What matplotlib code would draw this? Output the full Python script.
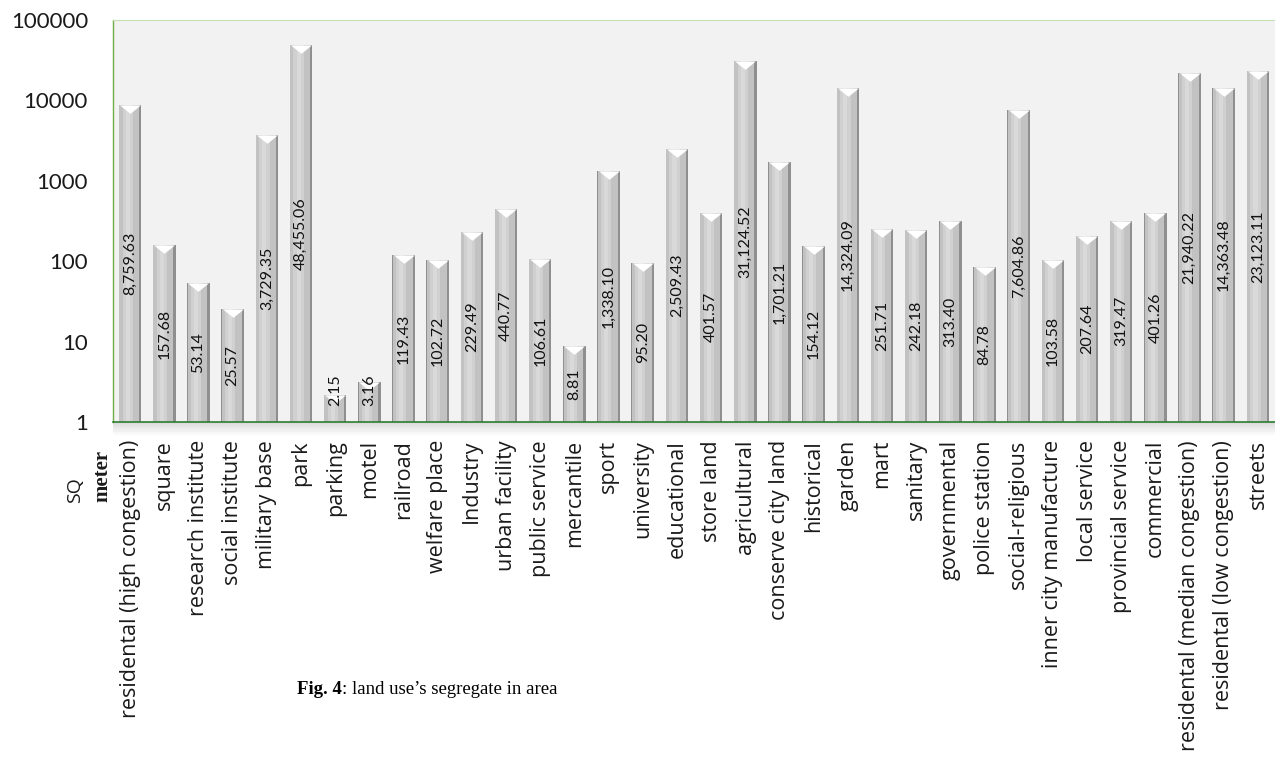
import matplotlib
matplotlib.use("Agg")
import matplotlib.pyplot as plt
from matplotlib.patches import Rectangle
import numpy as np

# land use categories and their area (sq meter)
categories = ["residental (high congestion)", "square", "research institute", "social institute",
              "military base", "park", "parking", "motel", "railroad", "welfare place", "Industry",
              "urban facility", "public service", "mercantile", "sport", "university", "educational",
              "store land", "agricultural", "conserve city land", "historical", "garden", "mart",
              "sanitary", "governmental", "police station", "social-religious", "inner city manufacture",
              "local service", "provincial service", "commercial", "residental (median congestion)",
              "residental (low congestion)", "streets"]
areas = [8759.63, 157.68, 53.14, 25.57, 3729.35, 48455.06, 2.15, 3.16, 119.43, 102.72, 229.49,
         440.77, 106.61, 8.81, 1338.10, 95.20, 2509.43, 401.57, 31124.52, 1701.21, 154.12, 14324.09,
         251.71, 242.18, 313.40, 84.78, 7604.86, 103.58, 207.64, 319.47, 401.26, 21940.22,
         14363.48, 23123.11]
yticks = [1, 10, 100, 1000, 10000, 100000]

W, H = 1275, 769
fig = plt.figure(figsize=(W/100, H/100), dpi=100)
ax = fig.add_axes([113/W, 1-422/H, 1-113/W, (422-20)/H])
ax.set_facecolor("#f2f2f2")

x = np.arange(len(categories))

# bars: layered to fake the shaded cylinder look
ax.bar(x, areas, width=0.66, color="#8f8f8f", zorder=2)
ax.bar(x-0.025, areas, width=0.58, color="#c2c2c2", zorder=3)
ax.bar(x-0.07, areas, width=0.30, color="#d0d0d0", zorder=4)
ax.bar(x-0.07, areas, width=0.12, color="#d9d9d9", zorder=5)
# white notch on the top of each bar
ax.plot(x, areas, linestyle="none", marker=[(-1, 0), (1, 0), (0, -0.8)],
        markersize=15, color="white", markeredgewidth=0, zorder=6)

# value labels, centred on the bar (in log space), kept up for the tiny ones
for xi, v in zip(x, areas):
    ax.text(xi, max(np.sqrt(v), 2.5), f"{v:,.2f}", rotation=90, ha="center", va="center",
            fontsize=11.5, family="Lato", color="#111111", zorder=7)

ax.set_yscale("log")
ax.set_ylim(1, 100000)
ax.set_xlim(-0.5, len(categories)-0.5)
ax.set_yticks(yticks)
ax.set_yticklabels([str(t) for t in yticks], family="Lato", fontsize=16, color="#1a1a1a")
ax.yaxis.set_minor_locator(matplotlib.ticker.NullLocator())
ax.tick_params(axis="y", length=0, pad=18)
ax.set_xticks(x)
ax.set_xticklabels(categories, rotation=90, family="Open Sans", fontsize=15.5, color="#1a1a1a",
                   va="top", ha="center")
ax.tick_params(axis="x", length=0, pad=13)

ax.spines["right"].set_visible(False)
ax.spines["top"].set_color("#c6e0b4")
ax.spines["left"].set_color("#70ad47")
ax.spines["left"].set_linewidth(1)
ax.spines["bottom"].set_color("#2e7d32")
ax.spines["bottom"].set_linewidth(1.2)
ax.spines["bottom"].set_zorder(8)

# soft shadow under the plot floor
for k in range(8):
    ax.add_patch(Rectangle((0, -0.004*(k+1)), 1, 0.004, transform=ax.transAxes,
                           color="#9a9a9a", alpha=0.35*(1-k/8), clip_on=False, lw=0))

fig.text(75/W, 1-490/H, "SQ", rotation=90, ha="center", va="center",
         family="Open Sans", fontsize=14, color="#1a1a1a")
fig.text(102/W, 1-476/H, "meter", rotation=90, ha="center", va="center",
         family="Liberation Serif", fontweight="bold", fontsize=15, color="#1a1a1a")

# caption: bold "Fig. 4" followed by plain text
t1 = fig.text(297/W, 1-690/H, "Fig. 4", ha="left", va="center", family="Liberation Serif",
              fontweight="bold", fontsize=13.5)
plt.annotate(": land use\u2019s segregate in area", xy=(1, 0.5), xycoords=t1,
             ha="left", va="center", family="Liberation Serif", fontsize=13.5)

fig.savefig("out.png", dpi=100)
